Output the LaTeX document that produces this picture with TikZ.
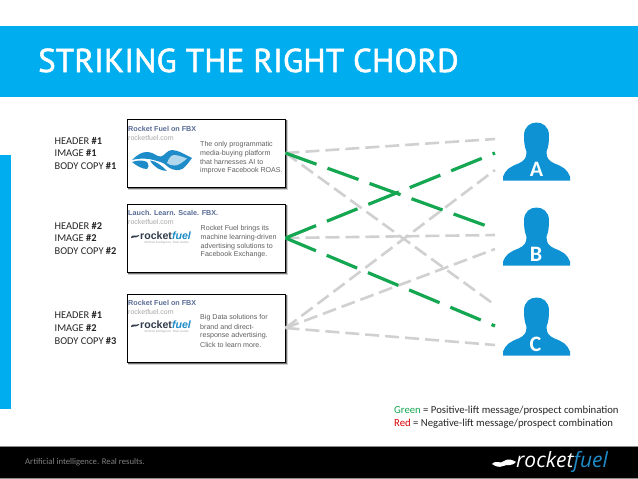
\documentclass[tikz,border=0pt]{standalone}
\usepackage{fontspec}
\setmainfont{Carlito}
\newfontfamily\adfont{Liberation Sans}
\newfontfamily\titlefont[FakeBold=1.6,LetterSpace=0.6]{PT Sans}
\newfontfamily\logofont{Open Sans}
\usetikzlibrary{shapes.geometric}
\definecolor{band}{RGB}{0,174,239}
\definecolor{person}{RGB}{14,146,212}
\definecolor{lnkgreen}{RGB}{20,166,80}
\definecolor{lnkgray}{RGB}{208,208,208}
\definecolor{adhead}{RGB}{88,108,150}
\definecolor{adgray}{RGB}{168,168,168}
\definecolor{adbody}{RGB}{95,95,95}
\definecolor{logodark}{RGB}{50,60,75}
\definecolor{logoblue}{RGB}{30,140,200}
\tikzset{
  adbox/.style={draw=black,line width=1pt,fill=white,minimum width=158pt,minimum height=68pt,inner sep=0pt},
  lab/.style={anchor=west,inner sep=0pt,font=\fontsize{10.4}{12}\selectfont,text=black!85},
  adh/.style={anchor=west,inner sep=0pt,text=adhead,font=\adfont\fontsize{7.2}{8}\selectfont\bfseries},
  adu/.style={anchor=west,inner sep=0pt,text=adgray,font=\adfont\fontsize{7}{8}\selectfont},
  adb/.style={anchor=west,inner sep=0pt,text=adbody,font=\adfont\fontsize{7.1}{8}\selectfont},
  logotxt/.style={anchor=west,inner sep=0pt,font=\adfont\fontsize{10.6}{12}\selectfont\bfseries},
  logosub/.style={anchor=center,inner sep=0pt,text=adgray,font=\adfont\fontsize{3}{3}\selectfont},
  plet/.style={text=white,inner sep=0pt,font=\fontsize{22}{22}\selectfont\bfseries},
  grayln/.style={draw=lnkgray,line width=2.6pt,dash pattern=on 14pt off 6pt},
  greenln/.style={draw=lnkgreen,line width=3.2pt,dash pattern=on 33pt off 11.7pt},
  legend/.style={anchor=west,inner sep=0pt,font=\fontsize{10.7}{12}\selectfont,text=black!85},
}
\newcommand{\personshape}[2]{%
  \fill[person,shift={(#1,#2)}] (-33.5,58) -- (-33.5,54)
    .. controls (-31,47) and (-26,44) .. (-18,41)
    .. controls (-12,38) and (-10,36) .. (-10,29)
    .. controls (-12,24) and (-12.5,20) .. (-12.5,13)
    .. controls (-12.5,4) and (-6,0) .. (0,0)
    .. controls (6,0) and (12.5,4) .. (12.5,13)
    .. controls (12.5,20) and (12,24) .. (10,29)
    .. controls (10,36) and (12,38) .. (18,41)
    .. controls (26,44) and (31,47) .. (33.5,54)
    -- (33.5,58) -- cycle;}
\newcommand{\adshadow}[2]{%
  \fill[black!18] (#1+1,#2+1) rectangle (#1+160.5,#2+70.5);
  \fill[black!55] (#1+1,#2+1) rectangle (#1+159.5,#2+69.5);}
\begin{document}
\begin{tikzpicture}[x=1pt,y=-1pt]
\useasboundingbox (0,0) rectangle (638,479);
\fill[white] (0,0) rectangle (638,479);
% header band and side bar
\fill[band] (0,25.5) rectangle (638,97);
\fill[band] (0,155) rectangle (11,409);
\node[anchor=base west,inner sep=0pt,text=white,font=\titlefont\fontsize{33}{33}\selectfont] (title) at (38,72) {STRIKING THE RIGHT CHORD};
% footer
\fill[black!45] (0,446) rectangle (638,479);
\fill[black] (0,447) rectangle (638,477.5);
\node[anchor=west,inner sep=0pt,text=black!50,font=\fontsize{8.7}{9}\selectfont] (tag) at (25,462) {Artificial intelligence. Real results.};
\node[anchor=west,inner sep=0pt,font=\logofont\fontsize{21}{21}\selectfont\itshape,text=white] (flogo) at (516,462) {rocket\textcolor{logoblue}{fuel}};
\fill[white] (492,464) .. controls (497,459) and (500,465) .. (504,461) .. controls (508,458) and (513,460) .. (516,462) .. controls (511,467) and (507,464) .. (503,466) .. controls (499,468) and (495,466) .. (492,464) -- cycle;
% ads
\adshadow{127}{119}
\adshadow{127}{204}
\adshadow{127}{294}
\node[adbox] (ad1) at (206,153) {};
\node[adbox] (ad2) at (206,238) {};
\node[adbox] (ad3) at (206,328) {};
% left labels
\node[lab] (l11) at (54.5,141) {HEADER \textbf{\#1}};
\node[lab] (l12) at (54.5,153) {IMAGE \textbf{\#1}};
\node[lab] (l13) at (54.5,166) {BODY COPY \textbf{\#1}};
\node[lab] (l21) at (54.5,226) {HEADER \textbf{\#2}};
\node[lab] (l22) at (54.5,238) {IMAGE \textbf{\#2}};
\node[lab] (l23) at (54.5,251) {BODY COPY \textbf{\#2}};
\node[lab] (l31) at (54.5,315) {HEADER \textbf{\#1}};
\node[lab] (l32) at (54.5,328) {IMAGE \textbf{\#2}};
\node[lab] (l33) at (54.5,341) {BODY COPY \textbf{\#3}};
% ad 1
\node[adh] (a1h) at (128,129) {Rocket Fuel on FBX};
\node[adu] (a1u) at (128,138) {rocketfuel.com};
\foreach \n/\y/\t in {a/145/The only programmatic,b/153.5/media-buying platform,c/162/that harnesses AI to,d/170.5/improve Facebook ROAS.}
  \node[adb] (a1\n) at (200,\y) {\t};
\fill[logoblue] (132,160) .. controls (137,155) and (142,151.5) .. (148,152)
  .. controls (154,152.5) and (157,157) .. (161,156.5)
  .. controls (165,155.5) and (167,150) .. (172,150)
  .. controls (178,150) and (186,155) .. (192,158)
  .. controls (188,163) and (184,170) .. (179,170)
  .. controls (175,170.5) and (170,169) .. (167,166)
  .. controls (164,163) and (161,162) .. (157,161)
  .. controls (148,158) and (140,158) .. (132,160) -- cycle;
\fill[logoblue] (150,160.5) .. controls (156,161) and (161,165) .. (167,171)
  .. controls (160,171) and (154,167) .. (150,160.5) -- cycle;
\fill[logoblue] (132,162) .. controls (138,160) and (143,160) .. (147,162)
  .. controls (149,165) and (149,168) .. (147,169)
  .. controls (142,169) and (137,166) .. (132,162) -- cycle;
\fill[logoblue!35] (167,163) .. controls (169,158) and (171,155) .. (174,155)
  .. controls (178,155) and (183,157) .. (187,158.5)
  .. controls (183,162) and (178,166) .. (174,165.5)
  .. controls (171,165.5) and (169,164.5) .. (167,163) -- cycle;
% ad 2
\node[adh] (a2h) at (128,213) {Lauch. Learn. Scale. FBX.};
\node[adu] (a2u) at (128,222) {rocketfuel.com};
\node[logotxt] (a2l) at (140,236) {\textcolor{logodark}{rocket}\textcolor{logoblue}{\itshape fuel}};
\node[logosub] (a2s) at (167,243) {Artificial Intelligence. Real results.};
\foreach \n/\y/\t in {a/229/Rocket Fuel brings its,b/238/machine learning-driven,c/246.5/advertising solutions to,d/255/Facebook Exchange.}
  \node[adb] (a2\n) at (200.5,\y) {\t};
\fill[logodark] (131,237) .. controls (133,234) and (135,237) .. (139,235) -- (139,236) .. controls (135,239) and (133,236) .. (131,238) -- cycle;
% ad 3
\node[adh] (a3h) at (128,303) {Rocket Fuel on FBX};
\node[adu] (a3u) at (128,312) {rocketfuel.com};
\node[logotxt] (a3l) at (140,325) {\textcolor{logodark}{rocket}\textcolor{logoblue}{\itshape fuel}};
\node[logosub] (a3s) at (167,332) {Artificial Intelligence. Real results.};
\foreach \n/\y/\t in {a/318/Big Data solutions for,b/327/brand and direct-,c/336/response advertising.,d/345/Click to learn more.}
  \node[adb] (a3\n) at (200,\y) {\t};
\fill[logodark] (131,326) .. controls (133,323) and (135,326) .. (139,324) -- (139,325) .. controls (135,328) and (133,325) .. (131,327) -- cycle;
% people
\personshape{536.5}{122.5}
\personshape{536.5}{207.5}
\personshape{536.5}{297.5}
\node[plet] (pA) at (536.5,169) {A};
\node[plet] (pB) at (536,254) {B};
\node[plet] (pC) at (535.5,344) {C};
% connector ends
\coordinate (ag) at (495,139);
\coordinate (aG) at (495,153);
\coordinate (ah) at (495,170);
\coordinate (bG) at (495,229);
\coordinate (bg) at (495,235);
\coordinate (bh) at (495,249);
\coordinate (cg) at (495,305);
\coordinate (cG) at (495,326);
\coordinate (ch) at (495,345);
% gray connectors
\draw[grayln] (ad1.east) -- (ag);
\draw[grayln] (ad1.east) -- (cg);
\draw[grayln] (ad2.east) -- (bg);
\draw[grayln] (ad3.east) -- (ah);
\draw[grayln] (ad3.east) -- (bh);
\draw[grayln] (ad3.east) -- (ch);
% green connectors
\draw[greenln] (ad1.east) -- (bG);
\draw[greenln] (ad2.east) -- (aG);
\draw[greenln] (ad2.east) -- (cG);
% legend
\node[legend] (lg1) at (394,411) {\textcolor{lnkgreen}{Green} = Positive-lift message/prospect combination};
\node[legend] (lg2) at (394,424) {\textcolor{red!85!black}{Red} = Negative-lift message/prospect combination};
\end{tikzpicture}
\end{document}
